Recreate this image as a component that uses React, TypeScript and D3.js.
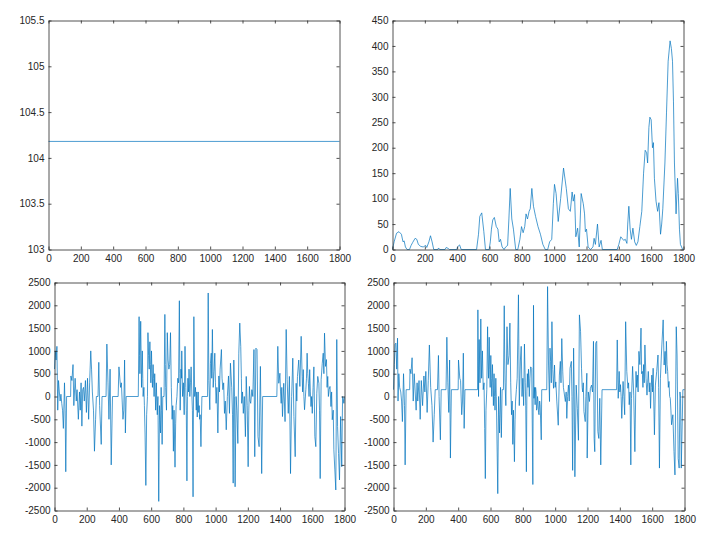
import * as d3 from 'd3';
import { useRef, useEffect } from 'react';

// shared x ticks
const xTicks = [0, 200, 400, 600, 800, 1000, 1200, 1400, 1600, 1800];

// top-left: constant level
const levelX = [0, 1800];
const levelY = [104.18, 104.18];
const levelTicks = [103, 103.5, 104, 104.5, 105, 105.5];

// top-right: envelope
const envX = [0, 10, 25, 40, 55, 65, 72, 80, 90, 105, 115, 125, 140, 150, 160, 175, 190, 205, 212, 225, 235, 245, 255,
    280, 285, 292, 325, 332, 345, 352, 398, 402, 415, 425, 520, 532, 540, 552, 565, 575, 598, 605, 612, 620, 630, 642,
    652, 660, 668, 678, 690, 700, 712, 720, 728, 738, 748, 762, 775, 788, 798, 808, 818, 826, 835, 845, 852, 862, 872,
    885, 900, 915, 930, 945, 960, 972, 985, 995, 1002, 1012, 1025, 1040, 1058, 1075, 1088, 1100, 1111, 1118, 1126,
    1134, 1145, 1155, 1167, 1180, 1188, 1193, 1200, 1210, 1225, 1240, 1247, 1255, 1268, 1278, 1290, 1298, 1390, 1400,
    1412, 1430, 1440, 1450, 1455, 1462, 1470, 1478, 1487, 1498, 1508, 1518, 1530, 1542, 1553, 1563, 1572, 1578, 1586,
    1592, 1600, 1608, 1614, 1620, 1630, 1640, 1648, 1658, 1665, 1672, 1685, 1695, 1705, 1717, 1725, 1732, 1738, 1744,
    1754, 1763, 1768, 1775, 1781, 1795, 1800];
const envY = [0, 15, 32, 35, 30, 15, 17, 5, 0, 0, 8, 14, 22, 20, 10, 6, 5, 8, 4, 15, 27, 15, 0,
    0, 3, 0, 0, 4, 2, 0, 0, 5, 9, 0, 0, 30, 65, 72, 35, 0, 0, 15, 40, 58, 63, 45,
    40, 15, 20, 5, 0, 5, 8, 60, 120, 60, 40, 0, 0, 20, 45, 33, 45, 70, 60, 75, 80, 120, 85,
    65, 45, 30, 10, 0, 0, 15, 20, 90, 128, 110, 55, 100, 160, 120, 80, 75, 113, 95, 108,
    25, 42, 5, 110, 90, 70, 35, 40, 5, 0, 5, 22, 10, 50, 5, 18, 0, 0, 10,
    25, 18, 20, 12, 50, 85, 40, 20, 42, 15, 8, 15, 45, 75, 150, 195, 190, 170, 240,
    260, 255, 200, 210, 140, 95, 75, 92, 30, 50, 80, 170, 270, 370, 410, 395, 370, 290, 170,
    70, 140, 110, 40, 10, 0, 0];
const envTicks = [0, 50, 100, 150, 200, 250, 300, 350, 400, 450];

// bottom-left: signal A, [x, value]
const sigA: [number, number][] = [
    [0, 600], [5, 1000], [10, 800], [15, 1100], [20, -300], [25, 350], [30, 100], [35, -100], [40, 50], [45, -150],
    [50, -300], [55, -700], [62, 300], [66, -300], [70, -1650], [75, 0], [100, 0], [102, 450], [108, 350], [115, 700],
    [120, -200], [128, 400], [135, -100], [140, 150], [148, -500], [155, 100], [160, -300], [165, 300], [170, -650],
    [175, 150], [180, 200], [185, -100], [192, 350], [198, -350], [205, 400], [212, -500], [218, 300], [225, 1000],
    [230, 600], [235, 100], [242, -300], [248, -1200], [255, -500], [260, 0], [270, 0], [275, 750], [280, -200],
    [290, -1050], [295, 0], [320, 0], [325, 1150], [332, 300], [338, -500], [345, 600], [352, -1500], [360, 0], [395, 0],
    [400, 650], [410, 200], [415, 300], [425, -500], [430, -300], [435, 800], [440, -800], [445, 0], [520, 0],
    [525, 1750], [528, 900], [530, 500], [535, 1650], [538, 800], [540, 200], [545, 1000], [548, 400], [550, 0],
    [555, 200], [558, -200], [562, -800], [567, -1950], [572, -400], [577, 0], [580, 1400], [584, 900], [588, 600],
    [592, 1200], [595, 700], [598, 300], [602, 1000], [605, 500], [608, 200], [612, 700], [615, 400], [618, 0],
    [622, 500], [625, 100], [628, -300], [632, 300], [635, -100], [638, -400], [642, 0], [647, -2300], [652, -200],
    [655, -500], [658, -800], [662, 200], [665, -300], [668, -1050], [672, 0], [680, 0], [685, 1800], [688, 700],
    [690, 200], [695, -300], [700, 1400], [705, 800], [710, 600], [715, 700], [720, 1400], [725, 200], [730, -500],
    [734, -200], [738, -1200], [742, -300], [748, -1550], [752, -600], [755, -200], [760, 0], [765, 400], [770, 300],
    [775, 2100], [778, 500], [780, -300], [785, 600], [788, 400], [790, 1000], [795, 0], [800, 300], [805, -400],
    [810, 1100], [815, 200], [818, -300], [822, -1850], [825, 0], [828, 400], [832, 100], [835, 600], [840, 0],
    [844, 300], [848, 650], [852, 100], [856, -300], [860, -2200], [865, 1750], [870, 0], [875, 200], [880, -300],
    [883, 100], [886, -450], [889, -100], [892, 100], [895, -350], [898, -200], [901, -500], [904, -400], [909, -1100],
    [915, 0], [950, 0], [954, 2270], [958, 350], [964, -290], [968, 730], [973, 950], [976, 400], [980, 1470],
    [985, 200], [990, 550], [995, 950], [999, 300], [1003, -150], [1008, 200], [1014, -800], [1020, 450], [1024, 100],
    [1028, 600], [1036, 1030], [1040, 400], [1045, 150], [1050, 300], [1055, -370], [1060, -100], [1066, -730],
    [1073, 0], [1080, 450], [1086, -370], [1092, 730], [1100, 200], [1105, -400], [1109, -1900], [1113, 800],
    [1117, 0], [1121, -1980], [1127, 0], [1132, -300], [1138, -1030], [1144, 950], [1150, 1610], [1156, 1100],
    [1160, 400], [1162, -150], [1167, 100], [1172, -370], [1178, 0], [1185, -880], [1190, 440], [1196, -200],
    [1202, -1540], [1206, -300], [1210, 220], [1214, -100], [1218, -150], [1225, 150], [1231, 0], [1238, 1030],
    [1243, -1320], [1250, 1060], [1257, 1030], [1263, -880], [1270, -1100], [1278, 660], [1286, -1690], [1292, 0],
    [1380, 0], [1386, 1100], [1392, 290], [1399, 510], [1403, 100], [1407, -150], [1411, 200], [1415, -440],
    [1423, 290], [1427, -100], [1431, -550], [1438, 1470], [1444, 370], [1451, -370], [1458, 440], [1465, -1690],
    [1472, 0], [1479, 840], [1486, -440], [1494, -1320], [1500, 290], [1504, -100], [1508, 440], [1516, 800],
    [1523, 220], [1531, 1320], [1537, 440], [1540, 100], [1544, 590], [1548, 0], [1552, -290], [1560, 150], [1564, 400],
    [1568, 950], [1572, 500], [1576, 290], [1580, 0], [1584, 590], [1588, 100], [1592, -220], [1596, 0], [1600, -370],
    [1605, 200], [1610, 650], [1616, -880], [1622, -1100], [1628, 70], [1634, 440], [1641, 290], [1645, -300],
    [1649, -1800], [1655, 370], [1662, 730], [1668, 950], [1672, 500], [1676, 1390], [1682, 660], [1688, 810],
    [1692, 200], [1696, 440], [1700, 0], [1704, 150], [1710, 220], [1716, -220], [1720, 100], [1724, -510],
    [1730, -300], [1734, -1170], [1740, -1610], [1746, -2050], [1752, 1250], [1757, -660], [1763, -1250],
    [1769, -1830], [1776, -440], [1783, -1540], [1788, 0], [1792, -50], [1796, -150], [1800, 0],
];

// bottom-right: signal B, [x, value]
const sigB: [number, number][] = [
    [0, 150], [5, 700], [10, 1150], [15, 1170], [20, 600], [25, 1280], [28, -100], [33, 500], [38, 200], [45, 100],
    [50, -100], [55, -550], [62, 500], [68, -200], [72, -1500], [78, 150], [100, 150], [102, 600], [108, 500],
    [115, 850], [122, -100], [128, 500], [132, 250], [140, -300], [146, 300], [150, -100], [158, 350], [165, -500],
    [172, 350], [180, -200], [188, 450], [194, 100], [200, 550], [208, -350], [215, 350], [222, 1130], [230, 200],
    [238, -200], [245, -1000], [252, -400], [258, 150], [272, 150], [278, 900], [282, 0], [290, -950], [295, 150],
    [325, 150], [330, 1300], [336, 300], [342, -350], [347, 800], [352, -1350], [358, 150], [400, 150], [402, 800],
    [410, 400], [415, 350], [422, -400], [427, -100], [432, 950], [437, -700], [442, 150], [520, 150], [522, 1900],
    [526, 0], [530, 1250], [535, 300], [540, 1700], [545, 400], [550, 1000], [555, 150], [560, 300], [564, -700],
    [568, -1800], [572, -300], [577, 150], [582, 1530], [585, 800], [588, 400], [592, 1300], [595, 600], [598, 200],
    [602, 900], [605, 400], [608, 0], [612, 700], [615, 300], [618, -200], [622, 500], [625, 0], [628, -300],
    [633, 400], [636, 0], [638, -450], [645, -2130], [650, 0], [653, -400], [656, -800], [662, 200], [667, -900],
    [672, 150], [680, 150], [685, 1990], [688, 800], [690, 300], [695, -200], [702, 1530], [708, 700], [715, 900],
    [720, 1610], [725, 300], [730, -400], [734, -100], [738, -1050], [742, -300], [748, -1430], [752, -500],
    [755, -100], [760, 150], [765, 400], [773, 2230], [778, -200], [782, 400], [785, 800], [790, 1100], [795, 0],
    [800, 400], [805, -200], [810, 1150], [815, 300], [818, -200], [822, -1650], [825, 100], [828, 500], [832, 200],
    [835, 600], [840, 0], [844, 400], [848, 650], [855, 620], [862, -1930], [866, 2000], [869, -40], [872, 200],
    [876, -180], [879, 200], [882, 100], [885, -300], [888, -260], [891, 0], [894, -110], [897, -350], [900, -400],
    [904, -100], [907, -180], [914, -950], [917, 150], [948, 150], [953, 2410], [959, 690], [965, -110], [968, 1060],
    [972, 770], [976, 300], [980, 1640], [985, 590], [990, 180], [996, 690], [1000, 200], [1004, 320], [1010, -100],
    [1019, -630], [1026, 470], [1032, 770], [1036, 300], [1041, 1270], [1047, 540], [1051, 200], [1055, 100],
    [1063, -110], [1068, 100], [1072, -480], [1077, 0], [1082, 250], [1087, -100], [1092, 620], [1100, 770],
    [1104, 0], [1108, -1620], [1114, 1060], [1118, 100], [1122, -1760], [1130, 250], [1137, -260], [1144, -960],
    [1150, 1790], [1157, 1430], [1163, 620], [1167, 200], [1170, 100], [1174, 300], [1178, -330], [1186, -550],
    [1190, 0], [1196, 510], [1198, -1350], [1205, 100], [1212, -110], [1218, 180], [1225, 250], [1231, 100],
    [1237, 1210], [1241, -920], [1245, -1210], [1251, 1170], [1257, 1210], [1264, -770], [1270, -920], [1276, -40],
    [1282, -1500], [1290, 150], [1380, 150], [1384, 1240], [1390, -40], [1396, 550], [1400, 100], [1404, 260],
    [1408, 0], [1412, -480], [1420, 330], [1425, 0], [1430, -400], [1436, 1640], [1443, 550], [1450, 180], [1454, 300],
    [1458, -180], [1463, 100], [1468, -1500], [1472, -40], [1479, 660], [1486, 30], [1493, -1210], [1500, 550],
    [1504, 200], [1508, 470], [1513, 100], [1518, 990], [1524, 700], [1531, 1500], [1535, 500], [1539, 550],
    [1543, 200], [1547, 700], [1551, 300], [1555, 1130], [1562, 400], [1568, 30], [1572, 300], [1576, 550],
    [1582, 100], [1586, 300], [1590, -260], [1594, 200], [1598, 470], [1602, 100], [1606, 620], [1614, -840],
    [1620, 250], [1628, 550], [1636, 910], [1640, 200], [1645, -1570], [1651, 400], [1657, 910], [1660, 1130],
    [1668, 1680], [1674, 690], [1680, 990], [1684, 500], [1688, 1210], [1692, 700], [1696, 550], [1700, 200],
    [1704, 330], [1708, 0], [1712, -40], [1716, -300], [1720, -620], [1728, -400], [1735, -1210], [1741, -1720],
    [1749, 1530], [1754, 910], [1761, -1360], [1767, -1570], [1772, 100], [1776, -40], [1780, -1570], [1790, 150],
    [1800, 150],
];
const sigTicks = [-2500, -2000, -1500, -1000, -500, 0, 500, 1000, 1500, 2000, 2500];

const FONT = '"Liberation Sans", Arial, sans-serif';
const INK = '#262626';

export default function App() {
    const svgRef = useRef<SVGSVGElement>(null);

    useEffect(() => {
        if (!svgRef.current) return;
        const svg = d3.select(svgRef.current);
        svg.selectAll('*').remove();

        const panels = [
            { left: 48.5, right: 339.5, top: 20.5, bottom: 249.5, pts: d3.zip(levelX, levelY), domain: [103, 105.5], yTicks: levelTicks },
            { left: 392.5, right: 683.5, top: 20.5, bottom: 249.5, pts: d3.zip(envX, envY), domain: [0, 450], yTicks: envTicks },
            { left: 54.5, right: 344.5, top: 282.5, bottom: 510.5, pts: sigA, domain: [-2500, 2500], yTicks: sigTicks },
            { left: 393.5, right: 684.5, top: 282.5, bottom: 510.5, pts: sigB, domain: [-2500, 2500], yTicks: sigTicks },
        ];

        const styleAxis = (g: any) => {
            g.attr('font-family', FONT).attr('font-size', 10);
            g.select('.domain').attr('stroke', INK).attr('stroke-width', 0.8);
            g.selectAll('line').attr('stroke', INK).attr('stroke-width', 0.8);
            g.selectAll('text').attr('fill', INK);
        };
        const fmt = (d: any) => String(d);

        panels.forEach(p => {
            const x = d3.scaleLinear().domain([0, 1800]).range([p.left, p.right]);
            const y = d3.scaleLinear().domain(p.domain).range([p.bottom, p.top]);
            const g = svg.append('g');

            const line = d3.line<number[]>()
                .x(d => x(d[0]))
                .y(d => y(d[1]));
            g.append('path')
                .datum(p.pts)
                .attr('d', line)
                .attr('fill', 'none')
                .attr('stroke', '#0072BD')
                .attr('stroke-width', 0.7)
                .attr('stroke-linejoin', 'round');

            // box with inward ticks on all four sides
            g.append('g').attr('transform', `translate(0,${p.bottom})`)
                .call(d3.axisBottom(x).tickValues(xTicks).tickFormat(fmt).tickSizeInner(-3).tickSizeOuter(0).tickPadding(5))
                .call(styleAxis);
            g.append('g').attr('transform', `translate(0,${p.top})`)
                .call(d3.axisTop(x).tickValues(xTicks).tickFormat(() => '').tickSizeInner(-3).tickSizeOuter(0))
                .call(styleAxis);
            g.append('g').attr('transform', `translate(${p.left},0)`)
                .call(d3.axisLeft(y).tickValues(p.yTicks).tickFormat(fmt).tickSizeInner(-3).tickSizeOuter(0).tickPadding(4))
                .call(styleAxis);
            g.append('g').attr('transform', `translate(${p.right},0)`)
                .call(d3.axisRight(y).tickValues(p.yTicks).tickFormat(() => '').tickSizeInner(-3).tickSizeOuter(0))
                .call(styleAxis);
        });
    }, []);

    return (
        <svg ref={svgRef} width={720} height={542}
            style={{ position: 'absolute', left: 0, top: 0, background: '#fff' }} />
    );
}
